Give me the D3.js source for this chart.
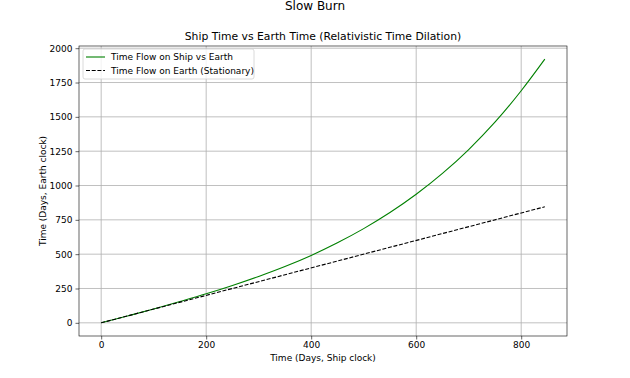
<!DOCTYPE html>
<html>
<head>
<meta charset="utf-8">
<script src="https://cdn.jsdelivr.net/npm/d3@7"></script>
<style>
  body { margin: 0; background: #fff; }
  svg text { font-family: "DejaVu Sans", sans-serif; fill: #000; }
</style>
</head>
<body>
<div id="chart"></div>
<script>
// ship clock (days) and earth clock (days)
const shipDays = [0, 50, 100, 150, 200, 250, 300, 350, 400, 450, 500, 550, 600, 650, 700, 750, 800, 845];
const earthDays = [0, 50, 101, 155, 211, 272, 338, 410, 491, 583, 686, 803, 936, 1088, 1262, 1461, 1690, 1920];
// stationary reference line
const stationaryX = [0, 845];
const stationaryY = [0, 845];
const xTicks = [0, 200, 400, 600, 800];
const yTicks = [0, 250, 500, 750, 1000, 1250, 1500, 1750, 2000];
const seriesNames = ["Time Flow on Ship vs Earth", "Time Flow on Earth (Stationary)"];

const width = 630, height = 378;
const m = {left: 79, right: 567, top: 46, bottom: 336};

const svg = d3.select("#chart").append("svg")
    .attr("width", width)
    .attr("height", height);

let x = d3.scaleLinear().domain([-42.25, 887.25]).range([m.left, m.right]);
let y = d3.scaleLinear().domain([-96, 2016]).range([m.bottom, m.top]);

// grid
svg.append("g").selectAll("line").data(xTicks).join("line")
    .attr("x1", d => x(d)).attr("x2", d => x(d))
    .attr("y1", m.top).attr("y2", m.bottom)
    .attr("stroke", "#b0b0b0").attr("stroke-width", 0.8);
svg.append("g").selectAll("line").data(yTicks).join("line")
    .attr("y1", d => y(d)).attr("y2", d => y(d))
    .attr("x1", m.left).attr("x2", m.right)
    .attr("stroke", "#b0b0b0").attr("stroke-width", 0.8);

// axes
const xAxis = svg.append("g")
    .attr("transform", `translate(0,${m.bottom})`)
    .call(d3.axisBottom(x).tickValues(xTicks).tickFormat(d3.format("d")).tickSize(3.5).tickPadding(2.5));
const yAxis = svg.append("g")
    .attr("transform", `translate(${m.left},0)`)
    .call(d3.axisLeft(y).tickValues(yTicks).tickFormat(d3.format("d")).tickSize(3.5).tickPadding(3));
[xAxis, yAxis].forEach(a => {
    a.select(".domain").remove();
    a.selectAll("text").style("font-size", "9px").attr("fill", "#000");
    a.selectAll("line").attr("stroke", "#000").attr("stroke-width", 0.6);
});

// lines
const ship = shipDays.map((d, i) => [d, earthDays[i]]);
const stat = stationaryX.map((d, i) => [d, stationaryY[i]]);
const line = d3.line().x(d => x(d[0])).y(d => y(d[1])).curve(d3.curveMonotoneX);
svg.append("path").datum(ship).attr("d", line)
    .attr("fill", "none").attr("stroke", "green").attr("stroke-width", 1.1);
svg.append("path").datum(stat).attr("d", line)
    .attr("fill", "none").attr("stroke", "#000").attr("stroke-width", 1.1)
    .attr("stroke-dasharray", "4,1.7");

// frame
svg.append("rect")
    .attr("x", m.left).attr("y", m.top)
    .attr("width", m.right - m.left).attr("height", m.bottom - m.top)
    .attr("fill", "none").attr("stroke", "#000").attr("stroke-width", 0.6);

// titles and labels
svg.append("text").attr("x", 315).attr("y", 9.5).attr("text-anchor", "middle")
    .style("font-size", "12px").text("Slow Burn");
svg.append("text").attr("x", (m.left + m.right) / 2).attr("y", 39.5).attr("text-anchor", "middle")
    .style("font-size", "10.8px").text("Ship Time vs Earth Time (Relativistic Time Dilation)");
svg.append("text").attr("x", (m.left + m.right) / 2).attr("y", 361).attr("text-anchor", "middle")
    .style("font-size", "9px").text("Time (Days, Ship clock)");
svg.append("text").attr("transform", `translate(46,${(m.top + m.bottom) / 2}) rotate(-90)`)
    .attr("text-anchor", "middle")
    .style("font-size", "9px").text("Time (Days, Earth clock)");

// legend
const lg = svg.append("g").attr("transform", `translate(83,49)`);
lg.append("rect").attr("width", 171).attr("height", 30).attr("rx", 2)
    .attr("fill", "#fff").attr("fill-opacity", 0.8)
    .attr("stroke", "#d0d0d0").attr("stroke-width", 0.8);
const styles = [{c: "green", dash: null}, {c: "#000", dash: "4,1.7"}];
seriesNames.forEach((name, i) => {
    const yy = 8 + i * 13.5;
    lg.append("line").attr("x1", 3).attr("x2", 22).attr("y1", yy).attr("y2", yy)
        .attr("stroke", styles[i].c).attr("stroke-width", 1.1)
        .attr("stroke-dasharray", styles[i].dash);
    lg.append("text").attr("x", 28).attr("y", yy).attr("dy", "0.35em")
        .style("font-size", "9px").text(name);
});
</script>
</body>
</html>
